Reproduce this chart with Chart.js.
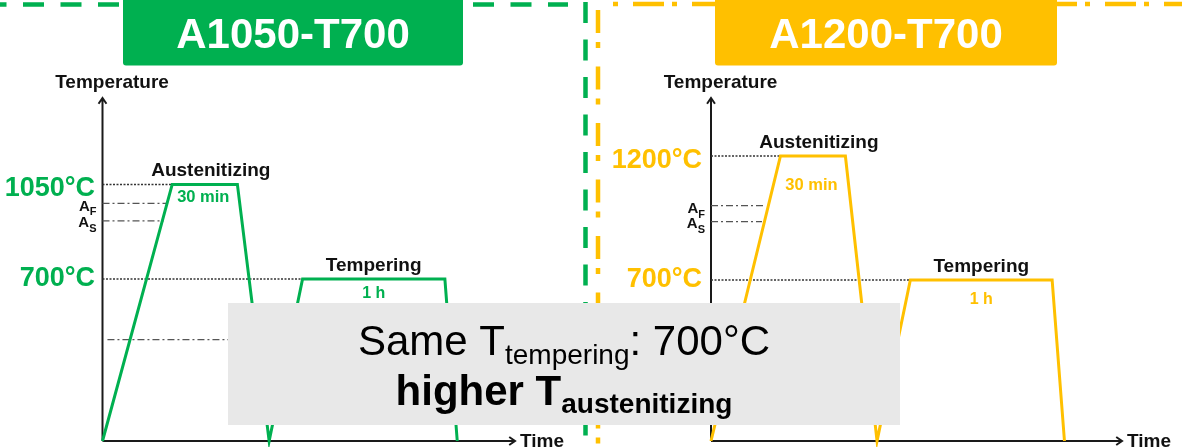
<!DOCTYPE html>
<html>
<head>
<meta charset="utf-8">
<script src="https://cdn.jsdelivr.net/npm/chart.js@4"></script>
<style>
body{margin:0;background:#fff;}
#wrap{position:relative;width:1182px;height:447px;overflow:hidden;background:#fff;}
#wrap canvas{position:absolute;left:0;top:0;}
</style>
</head>
<body>
<div id="wrap">
<canvas id="chartA" width="1182" height="447"></canvas>
<canvas id="chartB" width="1182" height="447"></canvas>
</div>
<script>
// schematic time points of the heat treatment (same for both panels)
const times = [0, 16.9, 32.7, 40.4, 48.5, 83, 86];
const tempsA = [100, 1050, 1050, 100, 700, 700, 100];
const tempsB = [50, 1200, 1200, 50, 700, 700, 50];

// reference lines: austenitizing, A_F, A_S, tempering, M_S
const refTempsA = [1050, 980, 915, 700, 475];
const refStartA = [0, 0, 0, 0, 1.2];
const refEndA = [16.9, 15.7, 14.8, 48.5, 37];
const refTempsB = [1200, 1000, 935, 700];
const refStartB = [0, 0, 0, 0];
const refEndB = [16.8, 13.1, 12.4, 48.5];

const titles = ['A1050-T700', 'A1200-T700'];
const tempLabelsA = ['1050°C', '700°C'];
const tempLabelsB = ['1200°C', '700°C'];
const stepLabels = ['Austenitizing', 'Tempering'];
const holdLabels = ['30 min', '1 h'];

const GREEN = '#00B050';
const YELLOW = '#FFC000';
const FONT = '"Liberation Sans", Arial, sans-serif';

function arrow(ctx, x1, y1, x2, y2) {
  const a = Math.atan2(y2 - y1, x2 - x1), h = 7;
  ctx.beginPath();
  ctx.moveTo(x1, y1); ctx.lineTo(x2, y2);
  ctx.moveTo(x2 - h * Math.cos(a - 0.6), y2 - h * Math.sin(a - 0.6));
  ctx.lineTo(x2, y2);
  ctx.lineTo(x2 - h * Math.cos(a + 0.6), y2 - h * Math.sin(a + 0.6));
  ctx.stroke();
}

// draws runs of text with different fonts / baseline shifts
function runs(ctx, segs, x, y, align) {
  let w = 0;
  segs.forEach(s => { ctx.font = s.font; s.w = ctx.measureText(s.t).width; w += s.w; });
  let cx = align == 'center' ? x - w / 2 : align == 'right' ? x - w : x;
  ctx.textAlign = 'left';
  ctx.textBaseline = 'alphabetic';
  segs.forEach(s => { ctx.font = s.font; ctx.fillText(s.t, cx, y + (s.dy || 0)); cx += s.w; });
}

function makeData(temps, refT, refS, refE, color) {
  const ds = [{
    data: times.map((t, i) => ({x: t, y: temps[i]})),
    borderColor: color, borderWidth: 3, borderJoinStyle: 'miter'
  }];
  refT.forEach((v, i) => {
    const dotted = (i == 0 || i == 3);
    ds.push({
      data: [{x: refS[i], y: v}, {x: refE[i], y: v}],
      borderColor: dotted ? '#333' : '#555',
      borderWidth: dotted ? 1.5 : 1.2,
      borderDash: dotted ? [2, 1.5] : [7, 3, 2, 3]
    });
  });
  ds.forEach(d => { d.pointRadius = 0; d.tension = 0; d.clip = false; d.fill = false; });
  return ds;
}

function panelPlugin(p) {
  return {
    id: 'panel' + p.key,
    beforeDatasetsDraw(chart) {
      const ctx = chart.ctx, a = chart.chartArea;
      ctx.save();
      ctx.strokeStyle = '#1a1a1a'; ctx.lineWidth = 2;
      arrow(ctx, a.left, a.bottom, a.left, a.top);
      arrow(ctx, a.left, a.bottom, a.right, a.bottom);
      ctx.restore();
    },
    afterDraw(chart) {
      const ctx = chart.ctx, a = chart.chartArea;
      const xs = chart.scales.x, ys = chart.scales.y;
      ctx.save();
      ctx.fillStyle = '#111';
      ctx.font = 'bold 19px ' + FONT;
      ctx.textAlign = 'center';
      ctx.fillText('Temperature', a.left + 9.5, a.top - 10);
      ctx.textAlign = 'left';
      ctx.fillText('Time', a.right + 5, a.bottom + 6);

      // temperature values
      ctx.fillStyle = p.color;
      ctx.font = 'bold 27px ' + FONT;
      ctx.textAlign = 'right';
      ctx.fillText(p.tempLabels[0], a.left - p.labGap, ys.getPixelForValue(p.refT[0]) + 12);
      ctx.fillText(p.tempLabels[1], a.left - p.labGap, ys.getPixelForValue(p.refT[3]) + 7.5);

      // A_F, A_S
      ctx.fillStyle = '#111';
      runs(ctx, [{t: 'A', font: 'bold 15px ' + FONT}, {t: 'F', font: 'bold 11px ' + FONT, dy: 4.5}],
        a.left - 6, ys.getPixelForValue(p.refT[1]) + 7.5, 'right');
      runs(ctx, [{t: 'A', font: 'bold 15px ' + FONT}, {t: 'S', font: 'bold 11px ' + FONT, dy: 4.5}],
        a.left - 6, ys.getPixelForValue(p.refT[2]) + 6.5, 'right');

      // step labels
      const tp = p.temps;
      const mid1 = xs.getPixelForValue((times[1] + times[2]) / 2);
      const mid2 = xs.getPixelForValue((times[4] + times[5]) / 2);
      const y1 = ys.getPixelForValue(tp[1]), y2 = ys.getPixelForValue(tp[4]);
      ctx.textAlign = 'center';
      ctx.font = 'bold 19px ' + FONT;
      ctx.fillText(stepLabels[0], mid1 + 6, y1 - 8);
      ctx.fillText(stepLabels[1], mid2, y2 - 8);
      ctx.fillStyle = p.color;
      ctx.font = 'bold 16.5px ' + FONT;
      ctx.fillText(holdLabels[0], mid1 - 1.5, y1 + p.holdDy[0]);
      ctx.font = 'bold 16px ' + FONT;
      ctx.fillText(holdLabels[1], mid2, y2 + p.holdDy[1]);
      ctx.restore();
      if (p.after) p.after(ctx);
    }
  };
}

function frame(ctx) {
  ctx.save();
  ctx.lineWidth = 4.5;
  // green dashed frame
  ctx.strokeStyle = GREEN;
  ctx.setLineDash([21, 16.5]);
  ctx.beginPath(); ctx.moveTo(-14.5, 4.5); ctx.lineTo(568, 4.5); ctx.stroke();
  ctx.beginPath(); ctx.moveTo(585.5, 2); ctx.lineTo(585.5, 447); ctx.stroke();
  // yellow dash-dot frame
  ctx.strokeStyle = YELLOW;
  ctx.setLineDash([5, 15, 31, 8]);
  ctx.beginPath(); ctx.moveTo(613, 4); ctx.lineTo(1182, 4); ctx.stroke();
  ctx.setLineDash([23, 9, 6, 18.5]);
  ctx.beginPath(); ctx.moveTo(598, 10); ctx.lineTo(598, 447); ctx.stroke();
  ctx.setLineDash([]);
  // title boxes
  [[123, 463, GREEN, titles[0]], [715, 1057, YELLOW, titles[1]]].forEach(b => {
    ctx.fillStyle = b[2];
    ctx.beginPath();
    ctx.roundRect(b[0], -10, b[1] - b[0], 75.5, 3);
    ctx.fill();
    ctx.fillStyle = '#fff';
    ctx.font = 'bold 42px ' + FONT;
    ctx.textAlign = 'center';
    ctx.fillText(b[3], (b[0] + b[1]) / 2, 48);
  });
  ctx.restore();
}

function note(ctx) {
  ctx.save();
  ctx.fillStyle = '#e8e8e8';
  ctx.fillRect(228, 303, 672, 122);
  ctx.fillStyle = '#000';
  runs(ctx, [
    {t: 'Same T', font: '42px ' + FONT},
    {t: 'tempering', font: '28px ' + FONT, dy: 9},
    {t: ': 700°C', font: '42px ' + FONT}
  ], 564, 355, 'center');
  runs(ctx, [
    {t: 'higher T', font: 'bold 42px ' + FONT},
    {t: 'austenitizing', font: 'bold 28px ' + FONT, dy: 8}
  ], 564, 405, 'center');
  ctx.restore();
}

function makeChart(id, p) {
  return new Chart(document.getElementById(id), {
    type: 'line',
    data: {datasets: makeData(p.temps, p.refT, p.refS, p.refE, p.color)},
    options: {
      responsive: false, animation: false, devicePixelRatio: 1, events: [],
      layout: {padding: p.pad},
      scales: {
        x: {type: 'linear', min: 0, max: 100, display: false},
        y: {type: 'linear', min: p.yMin, max: p.yMax, display: false}
      },
      plugins: {legend: {display: false}, tooltip: {enabled: false}}
    },
    plugins: [panelPlugin(p)]
  });
}

makeChart('chartA', {
  key: 'A', color: GREEN, temps: tempsA, refT: refTempsA, refS: refStartA, refE: refEndA,
  tempLabels: tempLabelsA, labGap: 7.5, holdDy: [18, 19],
  yMin: 100, yMax: 1370,
  pad: {left: 102.5, top: 98, right: 1182 - 515, bottom: 6},
  after: frame
});
makeChart('chartB', {
  key: 'B', color: YELLOW, temps: tempsB, refT: refTempsB, refS: refStartB, refE: refEndB,
  tempLabels: tempLabelsB, labGap: 9, holdDy: [34, 24],
  yMin: 50, yMax: 1434,
  pad: {left: 711, top: 98, right: 1182 - 1122, bottom: 6},
  after: note
});
</script>
</body>
</html>
